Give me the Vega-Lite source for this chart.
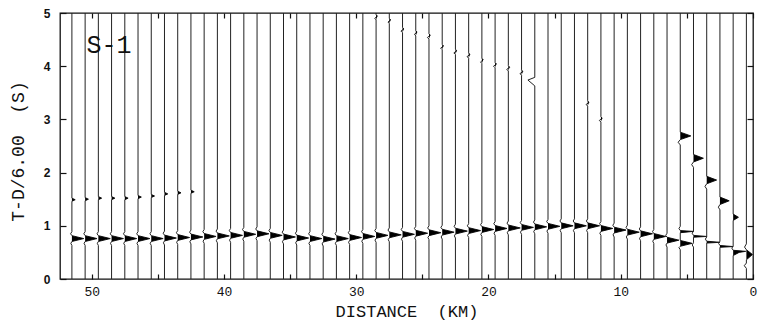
{
  "$schema": "https://vega.github.io/schema/vega-lite/v6.json",
  "width": 693,
  "height": 266,
  "autosize": {"type": "none"},
  "padding": {"left": 60, "top": 13, "right": 8, "bottom": 47},
  "background": "white",
  "config": {
    "view": {"stroke": "#111", "strokeWidth": 1.3},
    "axis": {"grid": false, "domain": false, "tickColor": "#111", "tickWidth": 1.2, "labelColor": "#111", "titleColor": "#111", "labelFlush": false}
  },
  "datasets": {
    "traces": [
      {"trace":51.5,"time":0,"pos":51.5},{"trace":51.5,"time":0.63,"pos":51.5},{"trace":51.5,"time":0.67,"pos":51.58},{"trace":51.5,"time":0.705,"pos":51.5},{"trace":51.5,"time":0.76,"pos":50.6},{"trace":51.5,"time":0.815,"pos":51.5},{"trace":51.5,"time":0.85,"pos":51.6},{"trace":51.5,"time":0.89,"pos":51.5},{"trace":51.5,"time":1.46,"pos":51.5},{"trace":51.5,"time":1.49,"pos":51.25},{"trace":51.5,"time":1.52,"pos":51.5},{"trace":51.5,"time":5,"pos":51.5},
      {"trace":50.5,"time":0,"pos":50.5},{"trace":50.5,"time":0.63,"pos":50.5},{"trace":50.5,"time":0.67,"pos":50.58},{"trace":50.5,"time":0.705,"pos":50.5},{"trace":50.5,"time":0.76,"pos":49.6},{"trace":50.5,"time":0.815,"pos":50.5},{"trace":50.5,"time":0.85,"pos":50.6},{"trace":50.5,"time":0.89,"pos":50.5},{"trace":50.5,"time":1.47,"pos":50.5},{"trace":50.5,"time":1.5,"pos":50.25},{"trace":50.5,"time":1.53,"pos":50.5},{"trace":50.5,"time":5,"pos":50.5},
      {"trace":49.5,"time":0,"pos":49.5},{"trace":49.5,"time":0.63,"pos":49.5},{"trace":49.5,"time":0.67,"pos":49.58},{"trace":49.5,"time":0.705,"pos":49.5},{"trace":49.5,"time":0.76,"pos":48.6},{"trace":49.5,"time":0.815,"pos":49.5},{"trace":49.5,"time":0.85,"pos":49.6},{"trace":49.5,"time":0.89,"pos":49.5},{"trace":49.5,"time":1.49,"pos":49.5},{"trace":49.5,"time":1.52,"pos":49.25},{"trace":49.5,"time":1.55,"pos":49.5},{"trace":49.5,"time":5,"pos":49.5},
      {"trace":48.5,"time":0,"pos":48.5},{"trace":48.5,"time":0.63,"pos":48.5},{"trace":48.5,"time":0.67,"pos":48.58},{"trace":48.5,"time":0.705,"pos":48.5},{"trace":48.5,"time":0.76,"pos":47.6},{"trace":48.5,"time":0.815,"pos":48.5},{"trace":48.5,"time":0.85,"pos":48.6},{"trace":48.5,"time":0.89,"pos":48.5},{"trace":48.5,"time":1.49,"pos":48.5},{"trace":48.5,"time":1.52,"pos":48.25},{"trace":48.5,"time":1.55,"pos":48.5},{"trace":48.5,"time":5,"pos":48.5},
      {"trace":47.5,"time":0,"pos":47.5},{"trace":47.5,"time":0.63,"pos":47.5},{"trace":47.5,"time":0.67,"pos":47.58},{"trace":47.5,"time":0.705,"pos":47.5},{"trace":47.5,"time":0.76,"pos":46.6},{"trace":47.5,"time":0.815,"pos":47.5},{"trace":47.5,"time":0.85,"pos":47.6},{"trace":47.5,"time":0.89,"pos":47.5},{"trace":47.5,"time":1.49,"pos":47.5},{"trace":47.5,"time":1.52,"pos":47.25},{"trace":47.5,"time":1.55,"pos":47.5},{"trace":47.5,"time":5,"pos":47.5},
      {"trace":46.5,"time":0,"pos":46.5},{"trace":46.5,"time":0.63,"pos":46.5},{"trace":46.5,"time":0.67,"pos":46.58},{"trace":46.5,"time":0.705,"pos":46.5},{"trace":46.5,"time":0.76,"pos":45.6},{"trace":46.5,"time":0.815,"pos":46.5},{"trace":46.5,"time":0.85,"pos":46.6},{"trace":46.5,"time":0.89,"pos":46.5},{"trace":46.5,"time":1.51,"pos":46.5},{"trace":46.5,"time":1.54,"pos":46.25},{"trace":46.5,"time":1.57,"pos":46.5},{"trace":46.5,"time":5,"pos":46.5},
      {"trace":45.5,"time":0,"pos":45.5},{"trace":45.5,"time":0.63,"pos":45.5},{"trace":45.5,"time":0.67,"pos":45.58},{"trace":45.5,"time":0.705,"pos":45.5},{"trace":45.5,"time":0.76,"pos":44.6},{"trace":45.5,"time":0.815,"pos":45.5},{"trace":45.5,"time":0.85,"pos":45.6},{"trace":45.5,"time":0.89,"pos":45.5},{"trace":45.5,"time":1.53,"pos":45.5},{"trace":45.5,"time":1.56,"pos":45.25},{"trace":45.5,"time":1.59,"pos":45.5},{"trace":45.5,"time":5,"pos":45.5},
      {"trace":44.5,"time":0,"pos":44.5},{"trace":44.5,"time":0.64,"pos":44.5},{"trace":44.5,"time":0.68,"pos":44.58},{"trace":44.5,"time":0.715,"pos":44.5},{"trace":44.5,"time":0.77,"pos":43.6},{"trace":44.5,"time":0.825,"pos":44.5},{"trace":44.5,"time":0.86,"pos":44.6},{"trace":44.5,"time":0.9,"pos":44.5},{"trace":44.5,"time":1.57,"pos":44.5},{"trace":44.5,"time":1.6,"pos":44.25},{"trace":44.5,"time":1.63,"pos":44.5},{"trace":44.5,"time":5,"pos":44.5},
      {"trace":43.5,"time":0,"pos":43.5},{"trace":43.5,"time":0.65,"pos":43.5},{"trace":43.5,"time":0.69,"pos":43.58},{"trace":43.5,"time":0.725,"pos":43.5},{"trace":43.5,"time":0.78,"pos":42.6},{"trace":43.5,"time":0.835,"pos":43.5},{"trace":43.5,"time":0.87,"pos":43.6},{"trace":43.5,"time":0.91,"pos":43.5},{"trace":43.5,"time":1.59,"pos":43.5},{"trace":43.5,"time":1.62,"pos":43.25},{"trace":43.5,"time":1.65,"pos":43.5},{"trace":43.5,"time":5,"pos":43.5},
      {"trace":42.5,"time":0,"pos":42.5},{"trace":42.5,"time":0.66,"pos":42.5},{"trace":42.5,"time":0.7,"pos":42.58},{"trace":42.5,"time":0.735,"pos":42.5},{"trace":42.5,"time":0.79,"pos":41.6},{"trace":42.5,"time":0.845,"pos":42.5},{"trace":42.5,"time":0.88,"pos":42.6},{"trace":42.5,"time":0.92,"pos":42.5},{"trace":42.5,"time":1.61,"pos":42.5},{"trace":42.5,"time":1.64,"pos":42.25},{"trace":42.5,"time":1.67,"pos":42.5},{"trace":42.5,"time":5,"pos":42.5},
      {"trace":41.5,"time":0,"pos":41.5},{"trace":41.5,"time":0.67,"pos":41.5},{"trace":41.5,"time":0.71,"pos":41.58},{"trace":41.5,"time":0.745,"pos":41.5},{"trace":41.5,"time":0.8,"pos":40.6},{"trace":41.5,"time":0.855,"pos":41.5},{"trace":41.5,"time":0.89,"pos":41.6},{"trace":41.5,"time":0.93,"pos":41.5},{"trace":41.5,"time":5,"pos":41.5},
      {"trace":40.5,"time":0,"pos":40.5},{"trace":40.5,"time":0.68,"pos":40.5},{"trace":40.5,"time":0.72,"pos":40.58},{"trace":40.5,"time":0.755,"pos":40.5},{"trace":40.5,"time":0.81,"pos":39.6},{"trace":40.5,"time":0.865,"pos":40.5},{"trace":40.5,"time":0.9,"pos":40.6},{"trace":40.5,"time":0.94,"pos":40.5},{"trace":40.5,"time":5,"pos":40.5},
      {"trace":39.5,"time":0,"pos":39.5},{"trace":39.5,"time":0.69,"pos":39.5},{"trace":39.5,"time":0.73,"pos":39.58},{"trace":39.5,"time":0.765,"pos":39.5},{"trace":39.5,"time":0.82,"pos":38.6},{"trace":39.5,"time":0.875,"pos":39.5},{"trace":39.5,"time":0.91,"pos":39.6},{"trace":39.5,"time":0.95,"pos":39.5},{"trace":39.5,"time":5,"pos":39.5},
      {"trace":38.5,"time":0,"pos":38.5},{"trace":38.5,"time":0.71,"pos":38.5},{"trace":38.5,"time":0.75,"pos":38.58},{"trace":38.5,"time":0.785,"pos":38.5},{"trace":38.5,"time":0.84,"pos":37.6},{"trace":38.5,"time":0.895,"pos":38.5},{"trace":38.5,"time":0.93,"pos":38.6},{"trace":38.5,"time":0.97,"pos":38.5},{"trace":38.5,"time":5,"pos":38.5},
      {"trace":37.5,"time":0,"pos":37.5},{"trace":37.5,"time":0.72,"pos":37.5},{"trace":37.5,"time":0.76,"pos":37.58},{"trace":37.5,"time":0.795,"pos":37.5},{"trace":37.5,"time":0.85,"pos":36.6},{"trace":37.5,"time":0.905,"pos":37.5},{"trace":37.5,"time":0.94,"pos":37.6},{"trace":37.5,"time":0.98,"pos":37.5},{"trace":37.5,"time":5,"pos":37.5},
      {"trace":36.5,"time":0,"pos":36.5},{"trace":36.5,"time":0.69,"pos":36.5},{"trace":36.5,"time":0.73,"pos":36.58},{"trace":36.5,"time":0.765,"pos":36.5},{"trace":36.5,"time":0.82,"pos":35.6},{"trace":36.5,"time":0.875,"pos":36.5},{"trace":36.5,"time":0.91,"pos":36.6},{"trace":36.5,"time":0.95,"pos":36.5},{"trace":36.5,"time":5,"pos":36.5},
      {"trace":35.5,"time":0,"pos":35.5},{"trace":35.5,"time":0.66,"pos":35.5},{"trace":35.5,"time":0.7,"pos":35.58},{"trace":35.5,"time":0.735,"pos":35.5},{"trace":35.5,"time":0.79,"pos":34.6},{"trace":35.5,"time":0.845,"pos":35.5},{"trace":35.5,"time":0.88,"pos":35.6},{"trace":35.5,"time":0.92,"pos":35.5},{"trace":35.5,"time":5,"pos":35.5},
      {"trace":34.5,"time":0,"pos":34.5},{"trace":34.5,"time":0.64,"pos":34.5},{"trace":34.5,"time":0.68,"pos":34.58},{"trace":34.5,"time":0.715,"pos":34.5},{"trace":34.5,"time":0.77,"pos":33.6},{"trace":34.5,"time":0.825,"pos":34.5},{"trace":34.5,"time":0.86,"pos":34.6},{"trace":34.5,"time":0.9,"pos":34.5},{"trace":34.5,"time":5,"pos":34.5},
      {"trace":33.5,"time":0,"pos":33.5},{"trace":33.5,"time":0.63,"pos":33.5},{"trace":33.5,"time":0.67,"pos":33.58},{"trace":33.5,"time":0.705,"pos":33.5},{"trace":33.5,"time":0.76,"pos":32.6},{"trace":33.5,"time":0.815,"pos":33.5},{"trace":33.5,"time":0.85,"pos":33.6},{"trace":33.5,"time":0.89,"pos":33.5},{"trace":33.5,"time":5,"pos":33.5},
      {"trace":32.5,"time":0,"pos":32.5},{"trace":32.5,"time":0.62,"pos":32.5},{"trace":32.5,"time":0.66,"pos":32.58},{"trace":32.5,"time":0.695,"pos":32.5},{"trace":32.5,"time":0.75,"pos":31.6},{"trace":32.5,"time":0.805,"pos":32.5},{"trace":32.5,"time":0.84,"pos":32.6},{"trace":32.5,"time":0.88,"pos":32.5},{"trace":32.5,"time":5,"pos":32.5},
      {"trace":31.5,"time":0,"pos":31.5},{"trace":31.5,"time":0.63,"pos":31.5},{"trace":31.5,"time":0.67,"pos":31.58},{"trace":31.5,"time":0.705,"pos":31.5},{"trace":31.5,"time":0.76,"pos":30.6},{"trace":31.5,"time":0.815,"pos":31.5},{"trace":31.5,"time":0.85,"pos":31.6},{"trace":31.5,"time":0.89,"pos":31.5},{"trace":31.5,"time":5,"pos":31.5},
      {"trace":30.5,"time":0,"pos":30.5},{"trace":30.5,"time":0.65,"pos":30.5},{"trace":30.5,"time":0.69,"pos":30.58},{"trace":30.5,"time":0.725,"pos":30.5},{"trace":30.5,"time":0.78,"pos":29.6},{"trace":30.5,"time":0.835,"pos":30.5},{"trace":30.5,"time":0.87,"pos":30.6},{"trace":30.5,"time":0.91,"pos":30.5},{"trace":30.5,"time":5,"pos":30.5},
      {"trace":29.5,"time":0,"pos":29.5},{"trace":29.5,"time":0.67,"pos":29.5},{"trace":29.5,"time":0.71,"pos":29.58},{"trace":29.5,"time":0.745,"pos":29.5},{"trace":29.5,"time":0.8,"pos":28.6},{"trace":29.5,"time":0.855,"pos":29.5},{"trace":29.5,"time":0.89,"pos":29.6},{"trace":29.5,"time":0.93,"pos":29.5},{"trace":29.5,"time":5,"pos":29.5},
      {"trace":28.5,"time":0,"pos":28.5},{"trace":28.5,"time":0.69,"pos":28.5},{"trace":28.5,"time":0.73,"pos":28.58},{"trace":28.5,"time":0.765,"pos":28.5},{"trace":28.5,"time":0.82,"pos":27.6},{"trace":28.5,"time":0.875,"pos":28.5},{"trace":28.5,"time":0.91,"pos":28.6},{"trace":28.5,"time":0.95,"pos":28.5},{"trace":28.5,"time":4.87,"pos":28.5},{"trace":28.5,"time":4.9,"pos":28.6},{"trace":28.5,"time":4.94,"pos":28.4},{"trace":28.5,"time":4.97,"pos":28.5},{"trace":28.5,"time":5,"pos":28.5},
      {"trace":27.5,"time":0,"pos":27.5},{"trace":27.5,"time":0.7,"pos":27.5},{"trace":27.5,"time":0.74,"pos":27.58},{"trace":27.5,"time":0.775,"pos":27.5},{"trace":27.5,"time":0.83,"pos":26.6},{"trace":27.5,"time":0.885,"pos":27.5},{"trace":27.5,"time":0.92,"pos":27.6},{"trace":27.5,"time":0.96,"pos":27.5},{"trace":27.5,"time":4.8,"pos":27.5},{"trace":27.5,"time":4.83,"pos":27.6},{"trace":27.5,"time":4.87,"pos":27.4},{"trace":27.5,"time":4.9,"pos":27.5},{"trace":27.5,"time":5,"pos":27.5},
      {"trace":26.5,"time":0,"pos":26.5},{"trace":26.5,"time":0.71,"pos":26.5},{"trace":26.5,"time":0.75,"pos":26.58},{"trace":26.5,"time":0.785,"pos":26.5},{"trace":26.5,"time":0.84,"pos":25.6},{"trace":26.5,"time":0.895,"pos":26.5},{"trace":26.5,"time":0.93,"pos":26.6},{"trace":26.5,"time":0.97,"pos":26.5},{"trace":26.5,"time":4.63,"pos":26.5},{"trace":26.5,"time":4.66,"pos":26.62},{"trace":26.5,"time":4.7,"pos":26.4},{"trace":26.5,"time":4.73,"pos":26.5},{"trace":26.5,"time":5,"pos":26.5},
      {"trace":25.5,"time":0,"pos":25.5},{"trace":25.5,"time":0.73,"pos":25.5},{"trace":25.5,"time":0.77,"pos":25.58},{"trace":25.5,"time":0.805,"pos":25.5},{"trace":25.5,"time":0.86,"pos":24.6},{"trace":25.5,"time":0.915,"pos":25.5},{"trace":25.5,"time":0.95,"pos":25.6},{"trace":25.5,"time":0.99,"pos":25.5},{"trace":25.5,"time":4.57,"pos":25.5},{"trace":25.5,"time":4.6,"pos":25.6},{"trace":25.5,"time":4.64,"pos":25.4},{"trace":25.5,"time":4.67,"pos":25.5},{"trace":25.5,"time":5,"pos":25.5},
      {"trace":24.5,"time":0,"pos":24.5},{"trace":24.5,"time":0.74,"pos":24.5},{"trace":24.5,"time":0.78,"pos":24.58},{"trace":24.5,"time":0.815,"pos":24.5},{"trace":24.5,"time":0.87,"pos":23.6},{"trace":24.5,"time":0.925,"pos":24.5},{"trace":24.5,"time":0.96,"pos":24.6},{"trace":24.5,"time":1,"pos":24.5},{"trace":24.5,"time":4.51,"pos":24.5},{"trace":24.5,"time":4.54,"pos":24.62},{"trace":24.5,"time":4.58,"pos":24.4},{"trace":24.5,"time":4.61,"pos":24.5},{"trace":24.5,"time":5,"pos":24.5},
      {"trace":23.5,"time":0,"pos":23.5},{"trace":23.5,"time":0.75,"pos":23.5},{"trace":23.5,"time":0.79,"pos":23.58},{"trace":23.5,"time":0.825,"pos":23.5},{"trace":23.5,"time":0.88,"pos":22.6},{"trace":23.5,"time":0.935,"pos":23.5},{"trace":23.5,"time":0.97,"pos":23.6},{"trace":23.5,"time":1.01,"pos":23.5},{"trace":23.5,"time":4.31,"pos":23.5},{"trace":23.5,"time":4.34,"pos":23.62},{"trace":23.5,"time":4.38,"pos":23.4},{"trace":23.5,"time":4.41,"pos":23.5},{"trace":23.5,"time":5,"pos":23.5},
      {"trace":22.5,"time":0,"pos":22.5},{"trace":22.5,"time":0.77,"pos":22.5},{"trace":22.5,"time":0.81,"pos":22.58},{"trace":22.5,"time":0.845,"pos":22.5},{"trace":22.5,"time":0.9,"pos":21.6},{"trace":22.5,"time":0.955,"pos":22.5},{"trace":22.5,"time":0.99,"pos":22.6},{"trace":22.5,"time":1.03,"pos":22.5},{"trace":22.5,"time":4.22,"pos":22.5},{"trace":22.5,"time":4.25,"pos":22.62},{"trace":22.5,"time":4.29,"pos":22.4},{"trace":22.5,"time":4.32,"pos":22.5},{"trace":22.5,"time":5,"pos":22.5},
      {"trace":21.5,"time":0,"pos":21.5},{"trace":21.5,"time":0.78,"pos":21.5},{"trace":21.5,"time":0.82,"pos":21.58},{"trace":21.5,"time":0.855,"pos":21.5},{"trace":21.5,"time":0.91,"pos":20.6},{"trace":21.5,"time":0.965,"pos":21.5},{"trace":21.5,"time":1,"pos":21.6},{"trace":21.5,"time":1.04,"pos":21.5},{"trace":21.5,"time":4.15,"pos":21.5},{"trace":21.5,"time":4.18,"pos":21.62},{"trace":21.5,"time":4.22,"pos":21.4},{"trace":21.5,"time":4.25,"pos":21.5},{"trace":21.5,"time":5,"pos":21.5},
      {"trace":20.5,"time":0,"pos":20.5},{"trace":20.5,"time":0.8,"pos":20.5},{"trace":20.5,"time":0.84,"pos":20.58},{"trace":20.5,"time":0.875,"pos":20.5},{"trace":20.5,"time":0.93,"pos":19.6},{"trace":20.5,"time":0.985,"pos":20.5},{"trace":20.5,"time":1.02,"pos":20.6},{"trace":20.5,"time":1.06,"pos":20.5},{"trace":20.5,"time":4.05,"pos":20.5},{"trace":20.5,"time":4.08,"pos":20.6},{"trace":20.5,"time":4.12,"pos":20.4},{"trace":20.5,"time":4.15,"pos":20.5},{"trace":20.5,"time":5,"pos":20.5},
      {"trace":19.5,"time":0,"pos":19.5},{"trace":19.5,"time":0.82,"pos":19.5},{"trace":19.5,"time":0.86,"pos":19.58},{"trace":19.5,"time":0.895,"pos":19.5},{"trace":19.5,"time":0.95,"pos":18.6},{"trace":19.5,"time":1.005,"pos":19.5},{"trace":19.5,"time":1.04,"pos":19.6},{"trace":19.5,"time":1.08,"pos":19.5},{"trace":19.5,"time":3.97,"pos":19.5},{"trace":19.5,"time":4,"pos":19.62},{"trace":19.5,"time":4.04,"pos":19.4},{"trace":19.5,"time":4.07,"pos":19.5},{"trace":19.5,"time":5,"pos":19.5},
      {"trace":18.5,"time":0,"pos":18.5},{"trace":18.5,"time":0.83,"pos":18.5},{"trace":18.5,"time":0.87,"pos":18.58},{"trace":18.5,"time":0.905,"pos":18.5},{"trace":18.5,"time":0.96,"pos":17.6},{"trace":18.5,"time":1.015,"pos":18.5},{"trace":18.5,"time":1.05,"pos":18.6},{"trace":18.5,"time":1.09,"pos":18.5},{"trace":18.5,"time":3.91,"pos":18.5},{"trace":18.5,"time":3.94,"pos":18.62},{"trace":18.5,"time":3.98,"pos":18.4},{"trace":18.5,"time":4.01,"pos":18.5},{"trace":18.5,"time":5,"pos":18.5},
      {"trace":17.5,"time":0,"pos":17.5},{"trace":17.5,"time":0.84,"pos":17.5},{"trace":17.5,"time":0.88,"pos":17.58},{"trace":17.5,"time":0.915,"pos":17.5},{"trace":17.5,"time":0.97,"pos":16.6},{"trace":17.5,"time":1.025,"pos":17.5},{"trace":17.5,"time":1.06,"pos":17.6},{"trace":17.5,"time":1.1,"pos":17.5},{"trace":17.5,"time":3.83,"pos":17.5},{"trace":17.5,"time":3.86,"pos":17.62},{"trace":17.5,"time":3.9,"pos":17.4},{"trace":17.5,"time":3.93,"pos":17.5},{"trace":17.5,"time":5,"pos":17.5},
      {"trace":16.5,"time":0,"pos":16.5},{"trace":16.5,"time":0.85,"pos":16.5},{"trace":16.5,"time":0.89,"pos":16.58},{"trace":16.5,"time":0.925,"pos":16.5},{"trace":16.5,"time":0.98,"pos":15.6},{"trace":16.5,"time":1.035,"pos":16.5},{"trace":16.5,"time":1.07,"pos":16.6},{"trace":16.5,"time":1.11,"pos":16.5},{"trace":16.5,"time":3.63,"pos":16.5},{"trace":16.5,"time":3.74,"pos":17.02},{"trace":16.5,"time":3.79,"pos":16.5},{"trace":16.5,"time":5,"pos":16.5},
      {"trace":15.5,"time":0,"pos":15.5},{"trace":15.5,"time":0.86,"pos":15.5},{"trace":15.5,"time":0.9,"pos":15.58},{"trace":15.5,"time":0.935,"pos":15.5},{"trace":15.5,"time":0.99,"pos":14.6},{"trace":15.5,"time":1.045,"pos":15.5},{"trace":15.5,"time":1.08,"pos":15.6},{"trace":15.5,"time":1.12,"pos":15.5},{"trace":15.5,"time":5,"pos":15.5},
      {"trace":14.5,"time":0,"pos":14.5},{"trace":14.5,"time":0.87,"pos":14.5},{"trace":14.5,"time":0.91,"pos":14.58},{"trace":14.5,"time":0.945,"pos":14.5},{"trace":14.5,"time":1,"pos":13.6},{"trace":14.5,"time":1.055,"pos":14.5},{"trace":14.5,"time":1.09,"pos":14.6},{"trace":14.5,"time":1.13,"pos":14.5},{"trace":14.5,"time":5,"pos":14.5},
      {"trace":13.5,"time":0,"pos":13.5},{"trace":13.5,"time":0.87,"pos":13.5},{"trace":13.5,"time":0.91,"pos":13.58},{"trace":13.5,"time":0.945,"pos":13.5},{"trace":13.5,"time":1,"pos":12.6},{"trace":13.5,"time":1.055,"pos":13.5},{"trace":13.5,"time":1.09,"pos":13.6},{"trace":13.5,"time":1.13,"pos":13.5},{"trace":13.5,"time":5,"pos":13.5},
      {"trace":12.5,"time":0,"pos":12.5},{"trace":12.5,"time":0.87,"pos":12.5},{"trace":12.5,"time":0.91,"pos":12.58},{"trace":12.5,"time":0.945,"pos":12.5},{"trace":12.5,"time":1,"pos":11.6},{"trace":12.5,"time":1.055,"pos":12.5},{"trace":12.5,"time":1.09,"pos":12.6},{"trace":12.5,"time":1.13,"pos":12.5},{"trace":12.5,"time":3.25,"pos":12.5},{"trace":12.5,"time":3.28,"pos":12.62},{"trace":12.5,"time":3.32,"pos":12.4},{"trace":12.5,"time":3.35,"pos":12.5},{"trace":12.5,"time":5,"pos":12.5},
      {"trace":11.5,"time":0,"pos":11.5},{"trace":11.5,"time":0.82,"pos":11.5},{"trace":11.5,"time":0.86,"pos":11.58},{"trace":11.5,"time":0.895,"pos":11.5},{"trace":11.5,"time":0.95,"pos":10.6},{"trace":11.5,"time":1.005,"pos":11.5},{"trace":11.5,"time":1.04,"pos":11.6},{"trace":11.5,"time":1.08,"pos":11.5},{"trace":11.5,"time":2.95,"pos":11.5},{"trace":11.5,"time":2.98,"pos":11.62},{"trace":11.5,"time":3.02,"pos":11.4},{"trace":11.5,"time":3.05,"pos":11.5},{"trace":11.5,"time":5,"pos":11.5},
      {"trace":10.5,"time":0,"pos":10.5},{"trace":10.5,"time":0.79,"pos":10.5},{"trace":10.5,"time":0.83,"pos":10.58},{"trace":10.5,"time":0.865,"pos":10.5},{"trace":10.5,"time":0.92,"pos":9.6},{"trace":10.5,"time":0.975,"pos":10.5},{"trace":10.5,"time":1.01,"pos":10.6},{"trace":10.5,"time":1.05,"pos":10.5},{"trace":10.5,"time":5,"pos":10.5},
      {"trace":9.5,"time":0,"pos":9.5},{"trace":9.5,"time":0.75,"pos":9.5},{"trace":9.5,"time":0.79,"pos":9.58},{"trace":9.5,"time":0.825,"pos":9.5},{"trace":9.5,"time":0.88,"pos":8.6},{"trace":9.5,"time":0.935,"pos":9.5},{"trace":9.5,"time":0.97,"pos":9.6},{"trace":9.5,"time":1.01,"pos":9.5},{"trace":9.5,"time":5,"pos":9.5},
      {"trace":8.5,"time":0,"pos":8.5},{"trace":8.5,"time":0.72,"pos":8.5},{"trace":8.5,"time":0.76,"pos":8.58},{"trace":8.5,"time":0.795,"pos":8.5},{"trace":8.5,"time":0.85,"pos":7.6},{"trace":8.5,"time":0.905,"pos":8.5},{"trace":8.5,"time":0.94,"pos":8.6},{"trace":8.5,"time":0.98,"pos":8.5},{"trace":8.5,"time":5,"pos":8.5},
      {"trace":7.5,"time":0,"pos":7.5},{"trace":7.5,"time":0.67,"pos":7.5},{"trace":7.5,"time":0.71,"pos":7.58},{"trace":7.5,"time":0.745,"pos":7.5},{"trace":7.5,"time":0.8,"pos":6.6},{"trace":7.5,"time":0.855,"pos":7.5},{"trace":7.5,"time":0.89,"pos":7.6},{"trace":7.5,"time":0.93,"pos":7.5},{"trace":7.5,"time":5,"pos":7.5},
      {"trace":6.5,"time":0,"pos":6.5},{"trace":6.5,"time":0.6,"pos":6.5},{"trace":6.5,"time":0.64,"pos":6.58},{"trace":6.5,"time":0.675,"pos":6.5},{"trace":6.5,"time":0.73,"pos":5.6},{"trace":6.5,"time":0.785,"pos":6.5},{"trace":6.5,"time":0.82,"pos":6.6},{"trace":6.5,"time":0.86,"pos":6.5},{"trace":6.5,"time":5,"pos":6.5},
      {"trace":5.5,"time":0,"pos":5.5},{"trace":5.5,"time":0.55,"pos":5.5},{"trace":5.5,"time":0.59,"pos":5.6},{"trace":5.5,"time":0.615,"pos":5.5},{"trace":5.5,"time":0.67,"pos":4.6},{"trace":5.5,"time":0.725,"pos":5.5},{"trace":5.5,"time":0.87,"pos":5.5},{"trace":5.5,"time":0.895,"pos":4.5},{"trace":5.5,"time":0.91,"pos":5.5},{"trace":5.5,"time":0.95,"pos":5.6},{"trace":5.5,"time":0.99,"pos":5.5},{"trace":5.5,"time":2.52,"pos":5.5},{"trace":5.5,"time":2.57,"pos":5.66},{"trace":5.5,"time":2.62,"pos":5.5},{"trace":5.5,"time":2.69,"pos":4.7},{"trace":5.5,"time":2.76,"pos":5.5},{"trace":5.5,"time":5,"pos":5.5},
      {"trace":4.5,"time":0,"pos":4.5},{"trace":4.5,"time":0.6,"pos":4.5},{"trace":4.5,"time":0.64,"pos":4.6},{"trace":4.5,"time":0.68,"pos":4.5},{"trace":4.5,"time":0.785,"pos":4.5},{"trace":4.5,"time":0.8,"pos":3.5},{"trace":4.5,"time":0.82,"pos":4.5},{"trace":4.5,"time":0.86,"pos":4.6},{"trace":4.5,"time":0.9,"pos":4.5},{"trace":4.5,"time":2.1,"pos":4.5},{"trace":4.5,"time":2.15,"pos":4.64},{"trace":4.5,"time":2.2,"pos":4.5},{"trace":4.5,"time":2.27,"pos":3.75},{"trace":4.5,"time":2.34,"pos":4.5},{"trace":4.5,"time":5,"pos":4.5},
      {"trace":3.5,"time":0,"pos":3.5},{"trace":3.5,"time":0.675,"pos":3.5},{"trace":3.5,"time":0.69,"pos":2.5},{"trace":3.5,"time":0.71,"pos":3.5},{"trace":3.5,"time":0.75,"pos":3.6},{"trace":3.5,"time":0.79,"pos":3.5},{"trace":3.5,"time":1.69,"pos":3.5},{"trace":3.5,"time":1.74,"pos":3.63},{"trace":3.5,"time":1.79,"pos":3.5},{"trace":3.5,"time":1.86,"pos":2.75},{"trace":3.5,"time":1.93,"pos":3.5},{"trace":3.5,"time":5,"pos":3.5},
      {"trace":2.5,"time":0,"pos":2.5},{"trace":2.5,"time":0.595,"pos":2.5},{"trace":2.5,"time":0.61,"pos":1.5},{"trace":2.5,"time":0.63,"pos":2.5},{"trace":2.5,"time":0.67,"pos":2.6},{"trace":2.5,"time":0.71,"pos":2.5},{"trace":2.5,"time":1.3,"pos":2.5},{"trace":2.5,"time":1.35,"pos":2.62},{"trace":2.5,"time":1.4,"pos":2.5},{"trace":2.5,"time":1.47,"pos":1.8},{"trace":2.5,"time":1.54,"pos":2.5},{"trace":2.5,"time":5,"pos":2.5},
      {"trace":1.5,"time":0,"pos":1.5},{"trace":1.5,"time":0.44,"pos":1.5},{"trace":1.5,"time":0.5,"pos":1.05},{"trace":1.5,"time":0.52,"pos":0.55},{"trace":1.5,"time":0.54,"pos":1.5},{"trace":1.5,"time":0.58,"pos":1.6},{"trace":1.5,"time":0.62,"pos":1.5},{"trace":1.5,"time":1.1,"pos":1.5},{"trace":1.5,"time":1.16,"pos":1.1},{"trace":1.5,"time":1.22,"pos":1.5},{"trace":1.5,"time":5,"pos":1.5},
      {"trace":0.5,"time":0,"pos":0.5},{"trace":0.5,"time":0.2,"pos":0.5},{"trace":0.5,"time":0.25,"pos":0.66},{"trace":0.5,"time":0.3,"pos":0.5},{"trace":0.5,"time":0.36,"pos":0.5},{"trace":0.5,"time":0.46,"pos":0.04},{"trace":0.5,"time":0.55,"pos":0.5},{"trace":0.5,"time":0.6,"pos":0.64},{"trace":0.5,"time":0.66,"pos":0.5},{"trace":0.5,"time":5,"pos":0.5}
    ]
  },
  "layer": [
    {
      "data": {"name": "traces"},
      "mark": {"type": "line", "color": "#222", "strokeWidth": 1},
      "encoding": {
        "y": {"field": "time", "type": "quantitative", "scale": {"domain": [0, 5], "nice": false},
          "axis": {"orient": "left", "values": [0, 1, 2, 3, 4, 5], "tickSize": -6, "labelPadding": 16,
            "labelFont": "Liberation Sans", "labelFontSize": 12, "labelFontWeight": "bold",
            "title": "T-D/6.00\u00a0 (S)", "titleFont": "Liberation Mono", "titleFontSize": 18, "titleFontWeight": "normal",
            "titleX": -42, "titleY": 138, "titleBaseline": "middle", "titleAlign": "center", "titleAngle": -90}},
        "x": {"field": "pos", "type": "quantitative", "scale": {"domain": [0, 52.4], "reverse": true, "nice": false, "zero": false},
          "axis": {"orient": "bottom", "values": [0, 5, 10, 15, 20, 25, 30, 35, 40, 45, 50],
            "labelExpr": "datum.value % 10 === 0 ? datum.label : ''", "tickSize": -5, "labelPadding": 11,
            "labelFont": "Liberation Mono", "labelFontSize": 13,
            "title": "DISTANCE\u00a0 (KM)", "titleFont": "Liberation Mono", "titleFontSize": 17, "titleFontWeight": "normal", "titlePadding": 5}},
        "detail": {"field": "trace", "type": "quantitative"},
        "order": {"field": "time", "type": "quantitative"}
      }
    },
    {
      "data": {"name": "traces"},
      "transform": [{"filter": "datum.pos <= datum.trace"}],
      "mark": {"type": "area", "orient": "horizontal", "color": "#000", "opacity": 1},
      "encoding": {
        "y": {"field": "time", "type": "quantitative", "scale": {"domain": [0, 5], "nice": false},
          "axis": {"orient": "right", "values": [0, 1, 2, 3, 4, 5], "labels": false, "tickSize": -6, "title": null}},
        "x": {"field": "pos", "type": "quantitative", "stack": null, "scale": {"domain": [0, 52.4], "reverse": true, "nice": false, "zero": false},
          "axis": {"orient": "top", "values": [0, 5, 10, 15, 20, 25, 30, 35, 40, 45, 50], "labels": false, "tickSize": -5, "title": null}},
        "x2": {"field": "trace"},
        "detail": {"field": "trace", "type": "quantitative"}
      }
    },
    {
      "data": {"values": [{"label": "S-1"}]},
      "mark": {"type": "text", "font": "Liberation Mono", "fontSize": 25, "color": "#111", "align": "center", "baseline": "middle"},
      "encoding": {
        "x": {"datum": 48.7, "type": "quantitative", "scale": {"domain": [0, 52.4], "reverse": true, "nice": false, "zero": false}, "axis": null},
        "y": {"datum": 4.4, "type": "quantitative", "scale": {"domain": [0, 5], "nice": false}, "axis": null},
        "text": {"field": "label"}
      }
    }
  ],
  "resolve": {"scale": {"x": "independent", "y": "independent"}, "axis": {"x": "independent", "y": "independent"}}
}
